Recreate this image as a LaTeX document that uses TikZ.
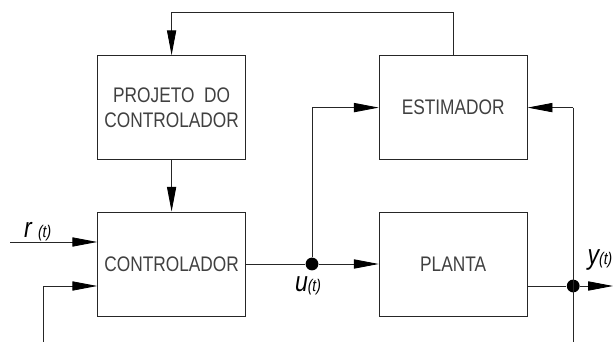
\documentclass[tikz,border=0pt]{standalone}
\usepackage{fontspec}
\setsansfont{Liberation Sans}[FakeStretch=0.82]
\usetikzlibrary{arrows.meta}
\newcommand{\sig}[2]{{\itshape #1#2{\fontsize{12}{14}\selectfont(t)}}}

\begin{document}
\begin{tikzpicture}[
  color=black!85,
  line width=0.6pt,
  font=\sffamily\fontsize{15}{17.8}\selectfont,
  box/.style={draw,align=center,
    minimum width=3.7cm,minimum height=2.6cm,inner sep=2pt,text=black!75},
  arr/.style={-{Triangle[length=0.62cm,width=0.23cm,color=black]}},
  dot/.style={circle,fill=black,inner sep=0pt,minimum size=0.32cm},
  lbl/.style={font=\sffamily\fontsize{20}{24}\selectfont,inner sep=0pt,
    anchor=base,text=black}
]
  \useasboundingbox (0,0) rectangle (15.325,8.55);

  \node[box] (proj) at (4.29,5.86) {PROJETO~~DO\\CONTROLADOR};
  \node[box] (est) at (11.33,5.86) {ESTIMADOR};
  \node[box] (ctrl) at (4.29,1.95) {CONTROLADOR};
  \node[box] (plant) at (11.33,1.95) {PLANTA};

  \node[dot] (du) at (7.8,1.95) {};
  \node[dot] (dy) at (14.33,1.4) {};
  \coordinate (rin) at (0.25,2.5);
  \coordinate (fbin) at (1.08,0);
  \coordinate (ybot) at (14.33,0);
  \coordinate (yout) at (15.325,1.4);

  % estimator -> controller design
  \draw[arr] (est.north) -- ([yshift=1.06cm]est.north) -| (proj.north);
  \draw[arr] (proj.south) -- (ctrl.north);

  % controller inputs
  \draw[arr] (rin) -- (rin -| ctrl.west);
  \draw[arr] (fbin) |- ([yshift=-0.55cm]ctrl.west);
  \node[lbl] (rlbl) at (0.94,2.6) {\sig{r}{\ }};

  % control signal
  \draw (ctrl.east) -- (du);
  \draw[arr] (du) -- (plant.west);
  \draw[arr] (du) |- (est.west);
  \node[lbl] (ulbl) at (7.7,1.25) {\sig{u}{}};

  % plant output
  \draw ([yshift=-0.55cm]plant.east) -- (dy);
  \draw[arr] (dy) -- (yout);
  \draw[arr] (dy |- est.east) -- (est.east);
  \draw (dy |- est.east) -- (ybot);
  \node[lbl,anchor=base west] (ylbl) at (14.68,1.93) {\sig{y}{}};
\end{tikzpicture}
\end{document}
